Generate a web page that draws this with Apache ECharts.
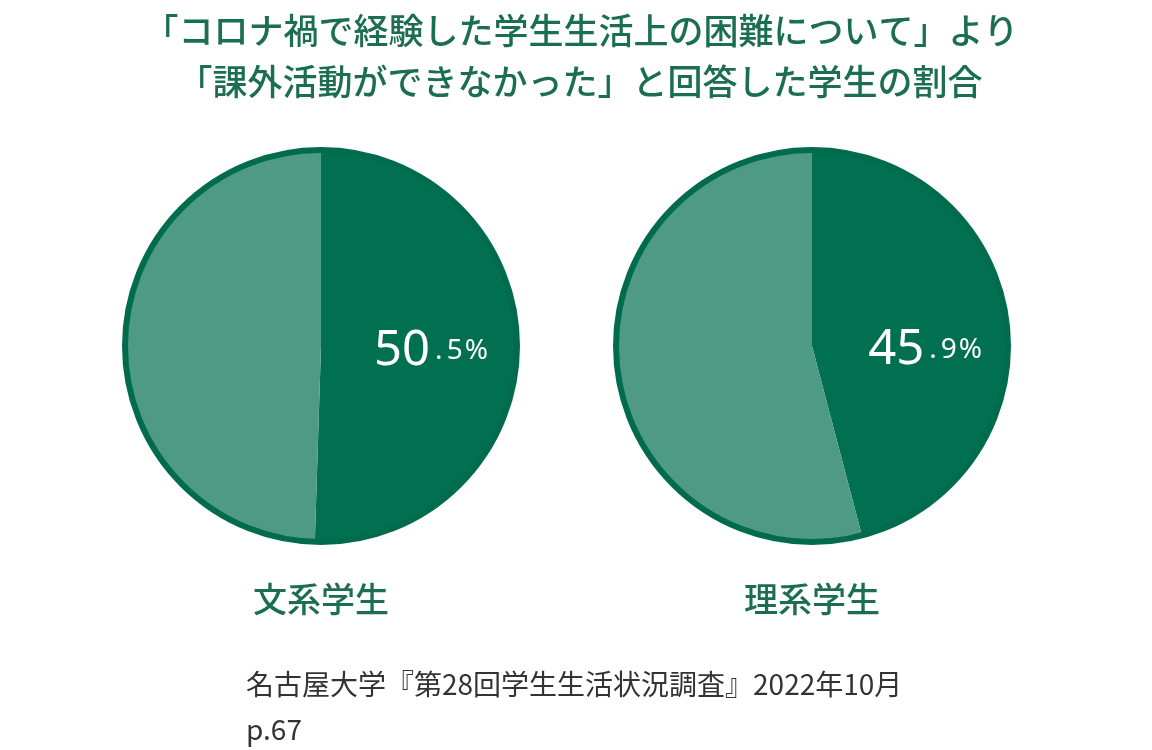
<!DOCTYPE html>
<html>
<head>
<meta charset="utf-8">
<script src="https://cdn.jsdelivr.net/npm/echarts@6/dist/echarts.min.js"></script>
<style>
html,body{margin:0;padding:0;background:#fff;}
#chart{width:1152px;height:750px;}
</style>
</head>
<body>
<div id="chart"></div>
<script>
// ---- data ----
const titleLines = ['「コロナ禍で経験した学生生活上の困難について」より', '「課外活動ができなかった」と回答した学生の割合'];
const groups = ['文系学生', '理系学生'];
const sliceNames = ['課外活動ができなかった', 'その他'];
const couldNot = [50.5, 45.9];
const others = [49.5, 54.1];
const sourceLines = ['名古屋大学『第28回学生生活状況調査』2022年10月', 'p.67'];

// ---- styles ----
const DARK = '#007050';
const LIGHT = '#4f9a84';
const BORDER = '#006c4d';
const TITLE_C = '#1b6e50';
const JP = '"Noto Sans CJK JP", "Noto Sans", sans-serif';
const LAT = '"Noto Sans", sans-serif';

const centers = [[321, 346], [812, 346]];
const labelOffsets = [[9, 3], [13, 17]];
const R = 196;

const series = [];
groups.forEach((g, i) => {
  series.push({
    type: 'pie',
    name: g,
    center: centers[i],
    radius: [0, R],
    startAngle: 90,
    clockwise: true,
    silent: true,
    animation: false,
    labelLine: { show: false },
    data: [
      {
        name: sliceNames[0], value: couldNot[i],
        itemStyle: { color: DARK },
        label: {
          show: true, position: 'inside', offset: labelOffsets[i],
          formatter: (p) => {
            const parts = p.value.toFixed(1).split('.');
            return '{a|' + parts[0] + '}{s|.}{b|' + parts[1] + '}{c|%}';
          },
          rich: {
            a: { fontSize: 49, lineHeight: 49, color: '#fff', fontFamily: LAT },
            s: { fontSize: 28, lineHeight: 34, color: '#fff', fontFamily: LAT, padding: [0, 4, 0, 5] },
            b: { fontSize: 28, lineHeight: 34, color: '#fff', fontFamily: LAT, padding: [0, 2, 0, 0] },
            c: { fontSize: 28, lineHeight: 34, color: '#fff', fontFamily: LAT }
          }
        }
      },
      { name: sliceNames[1], value: others[i], itemStyle: { color: LIGHT }, label: { show: false } }
    ]
  });
  // outline ring
  series.push({
    type: 'pie',
    name: g + '-outline',
    center: centers[i],
    radius: [0, R],
    silent: true,
    animation: false,
    label: { show: false },
    labelLine: { show: false },
    itemStyle: { color: 'transparent', borderColor: BORDER, borderWidth: 6 },
    data: [{ name: g, value: 1 }]
  });
});

function txt(x, y, text, font, fill, align) {
  return { type: 'text', x: x, y: y, silent: true,
    style: { text: text, fill: fill, font: font, align: align, verticalAlign: 'middle', textAlign: align, textVerticalAlign: 'middle' } };
}

const graphic = [
  txt(581, 31, titleLines[0], '500 35px ' + JP, TITLE_C, 'center'),
  txt(580, 82, titleLines[1], '500 35px ' + JP, TITLE_C, 'center'),
  txt(centers[0][0], 599, groups[0], '500 34px ' + JP, TITLE_C, 'center'),
  txt(centers[1][0], 599, groups[1], '500 34px ' + JP, TITLE_C, 'center'),
  txt(246, 684, sourceLines[0], '28px ' + JP, '#333', 'left'),
  txt(246, 729, sourceLines[1], '28px ' + JP, '#333', 'left')
];

const chart = echarts.init(document.getElementById('chart'), null, { renderer: 'canvas' });
chart.setOption({
  backgroundColor: '#fff',
  animation: false,
  series: series,
  graphic: graphic
});
</script>
</body>
</html>
